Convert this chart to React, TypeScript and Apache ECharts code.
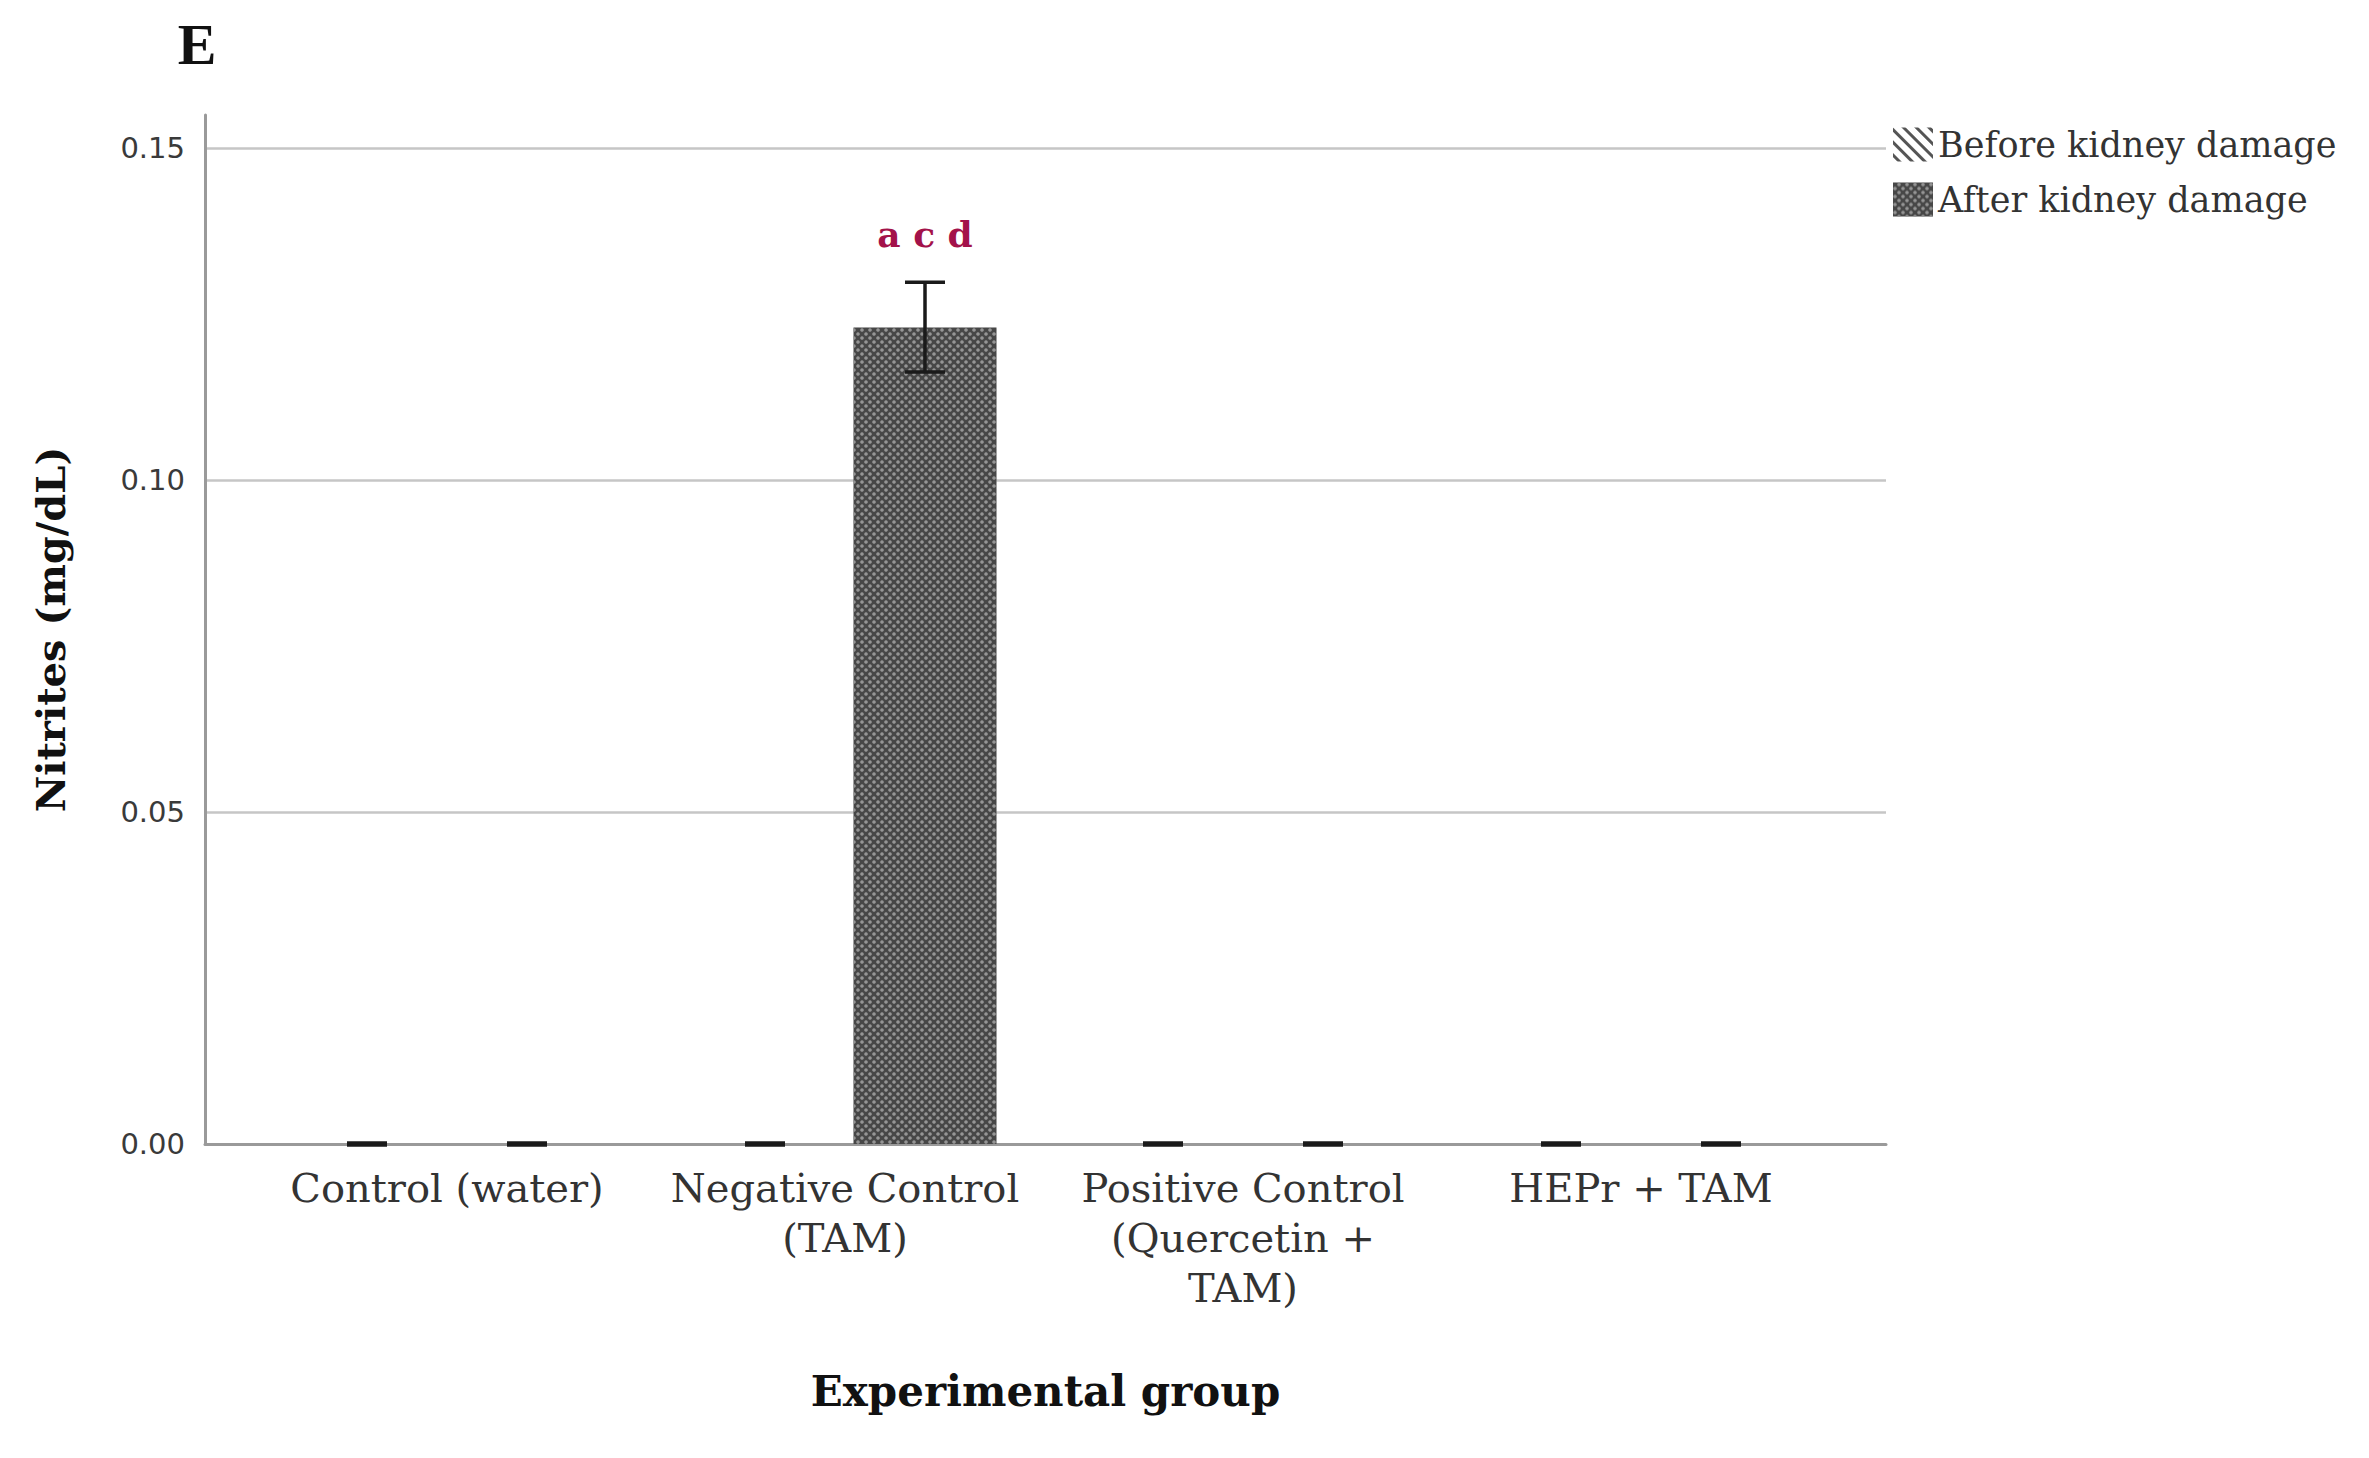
import React, { useEffect, useRef } from "react";
import * as echarts from "echarts";

const categories = [
  "Control (water)",
  "Negative Control\n(TAM)",
  "Positive Control\n(Quercetin +\nTAM)",
  "HEPr + TAM",
];
const seriesNames = ["Before kidney damage", "After kidney damage"];
const beforeMean = [0, 0, 0, 0];
const beforeLow = [0, 0, 0, 0];
const beforeHigh = [0, 0, 0, 0];
const afterMean = [0, 0.123, 0, 0];
const afterLow = [0, 0.1163, 0, 0];
const afterHigh = [0, 0.1298, 0, 0];
const afterLetters = ["", "a c d", "", ""];
const yMin = 0;
const yMax = 0.155;
const yInterval = 0.05;

const BAR_W = 143;
const BAR_GAP = 17;
const OFFSET = (BAR_W + BAR_GAP) / 2;
const SERIF = '"DejaVu Serif", serif';

function makeErr(low: number[], high: number[], letters: string[], sign: number) {
  return {
    type: "custom",
    xAxisIndex: 1,
    yAxisIndex: 1,
    z: 5,
    silent: true,
    data: categories.map((_, i) => [i, low[i], high[i]]),
    encode: { x: 0, y: [1, 2] },
    renderItem: (params: any, api: any) => {
      const i = api.value(0);
      const lo = api.coord([i, api.value(1)]);
      const hi = api.coord([i, api.value(2)]);
      const x = lo[0] + sign * OFFSET;
      const cap = 20;
      const zero = Math.abs(hi[1] - lo[1]) < 0.5;
      const st = { stroke: "#1a1a1a", lineWidth: zero ? 5 : 3.5 };
      const children: any[] = [
        { type: "line", shape: { x1: x, y1: hi[1], x2: x, y2: lo[1] }, style: st },
        { type: "line", shape: { x1: x - cap, y1: hi[1], x2: x + cap, y2: hi[1] }, style: st },
        { type: "line", shape: { x1: x - cap, y1: lo[1], x2: x + cap, y2: lo[1] }, style: st },
      ];
      const t = letters[i];
      if (t) {
        children.push({
          type: "text",
          x,
          y: hi[1] - 48,
          style: {
            text: t,
            font: `bold 36px ${SERIF}`,
            fill: "#a3124a",
            align: "center",
            verticalAlign: "middle",
          },
        });
      }
      return { type: "group", children };
    },
  };
}

export default function App() {
  const ref = useRef<HTMLDivElement>(null);
  useEffect(() => {
    document.body.style.margin = "0";
    const chart = echarts.init(ref.current!, undefined, { renderer: "svg" });
    const frame = { left: 205, right: 483, top: 115, bottom: 314 };
    const option: any = {
      animation: false,
      backgroundColor: "#ffffff",
      graphic: [
        {
          type: "text",
          x: 197,
          y: 44,
          style: {
            text: "E",
            font: 'bold 58px "Liberation Serif", serif',
            fill: "#111",
            align: "center",
            verticalAlign: "middle",
          },
        },
      ],
      legend: {
        orient: "vertical",
        left: 1888,
        top: 122,
        itemWidth: 40,
        itemHeight: 34,
        itemGap: 20,
        icon: "rect",
        data: seriesNames,
        textStyle: { fontFamily: SERIF, fontSize: 35, color: "#333" },
      },
      grid: [
        { ...frame },
        { left: 248, right: 529, top: 115, bottom: 314 },
      ],
      xAxis: [
        {
          type: "category",
          gridIndex: 0,
          data: [""],
          axisLine: { show: true, lineStyle: { color: "#9a9a9a", width: 3 } },
          axisTick: { show: false },
          axisLabel: { show: false },
          name: "Experimental group",
          nameLocation: "middle",
          nameGap: 226,
          nameTextStyle: { fontFamily: SERIF, fontWeight: "bold", fontSize: 42, color: "#111" },
        },
        {
          type: "category",
          gridIndex: 1,
          data: categories,
          axisLine: { show: false },
          axisTick: { show: false },
          axisLabel: {
            interval: 0,
            fontFamily: SERIF,
            fontSize: 40,
            lineHeight: 50,
            color: "#333",
            margin: 19,
          },
        },
      ],
      yAxis: [
        {
          type: "value",
          gridIndex: 0,
          min: yMin,
          max: yMax,
          interval: yInterval,
          axisLine: { show: true, lineStyle: { color: "#9a9a9a", width: 3 } },
          axisTick: { show: false },
          axisLabel: {
            formatter: (v: number) => v.toFixed(2),
            showMaxLabel: false,
            fontFamily: '"DejaVu Sans", sans-serif',
            fontSize: 29,
            color: "#3a3a3a",
            margin: 20,
          },
          splitLine: {
            show: true,
            showMaxLine: false,
            showMinLine: false,
            lineStyle: { color: "#c6c6c6", width: 2.5 },
          },
          name: "Nitrites (mg/dL)",
          nameLocation: "middle",
          nameGap: 135,
          nameTextStyle: { fontFamily: SERIF, fontWeight: "bold", fontSize: 40, color: "#111" },
        },
        {
          type: "value",
          gridIndex: 1,
          min: yMin,
          max: yMax,
          show: false,
          splitLine: { show: false },
        },
      ],
      series: [
        {
          name: seriesNames[0],
          type: "bar",
          xAxisIndex: 1,
          yAxisIndex: 1,
          barWidth: BAR_W,
          barGap: `${(BAR_GAP / BAR_W) * 100}%`,
          data: beforeMean,
          itemStyle: {
            color: "#ffffff",
            decal: {
              symbol: "rect",
              symbolSize: 1,
              color: "#555555",
              dashArrayX: [1, 0],
              dashArrayY: [3, 6],
              rotation: Math.PI / 4,
            },
          },
        },
        {
          name: seriesNames[1],
          type: "bar",
          xAxisIndex: 1,
          yAxisIndex: 1,
          barWidth: BAR_W,
          barGap: `${(BAR_GAP / BAR_W) * 100}%`,
          data: afterMean,
          itemStyle: {
            color: "#474747",
            decal: {
              symbol: "circle",
              symbolSize: 0.9,
              color: "#959595",
              backgroundColor: "#474747",
              dashArrayX: [[4, 4], [0, 4, 4, 0]],
              dashArrayY: [4, 0],
            },
          },
        },
        makeErr(beforeLow, beforeHigh, ["", "", "", ""], -1),
        makeErr(afterLow, afterHigh, afterLetters, 1),
      ],
    };
    chart.setOption(option);
    return () => chart.dispose();
  }, []);
  return <div ref={ref} style={{ width: 2369, height: 1458 }} />;
}
